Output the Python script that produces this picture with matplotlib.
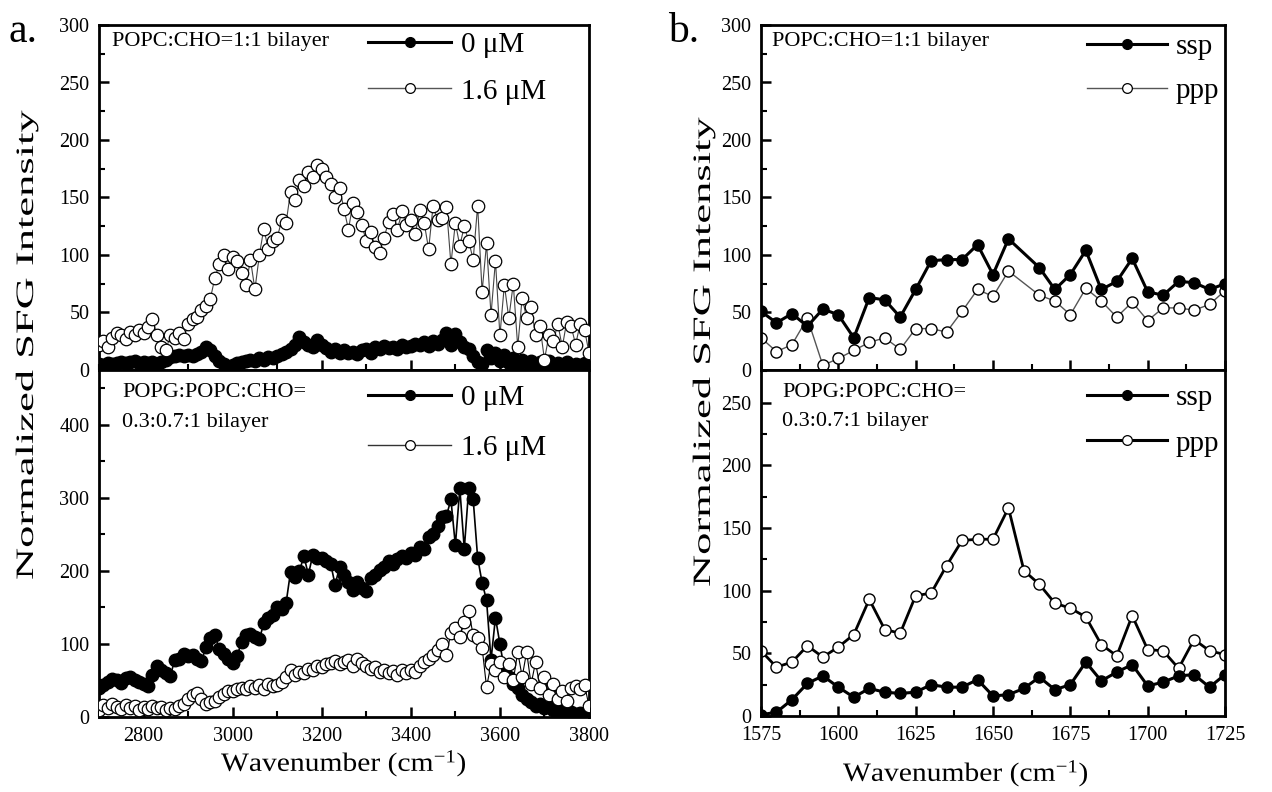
import matplotlib
matplotlib.use("Agg")
import matplotlib.pyplot as plt
from matplotlib.lines import Line2D
from matplotlib.patheffects import AbstractPathEffect
from matplotlib.transforms import Affine2D
from matplotlib.ticker import MultipleLocator

plt.rcParams['font.family'] = ['Liberation Serif', 'DejaVu Serif']
plt.rcParams['mathtext.fontset'] = 'custom'
plt.rcParams['mathtext.rm'] = 'Liberation Serif'
plt.rcParams['mathtext.it'] = 'Liberation Serif:italic'
plt.rcParams['mathtext.bf'] = 'Liberation Serif:bold'

# ---------------- data ----------------
wn_ch = list(range(2700, 3801, 10))

ch_top_0uM = [5, 4, 6, 5, 6, 7, 6, 7, 8, 6,
              7, 6, 7, 5, 7, 9, 11, 12, 13, 12,
              13, 12, 14, 16, 20, 17, 12, 8, 5, 3,
              4, 6, 7, 8, 9, 8, 10, 9, 11, 10,
              12, 14, 16, 18, 22, 29, 24, 22, 20, 26,
              22, 19, 16, 18, 15, 17, 15, 16, 14, 17,
              18, 15, 20, 18, 21, 19, 20, 18, 22, 20,
              21, 23, 22, 24, 21, 25, 23, 26, 32, 22,
              31, 24, 20, 18, 12, 7, 5, 17, 10, 15,
              8, 13, 6, 10, 4, 9, 6, 8, 4, 7,
              5, 8, 3, 6, 4, 7, 3, 5, 4, 6,
              3]

ch_top_16uM = [22, 25, 20, 28, 32, 30, 27, 33, 30, 35,
               32, 37, 44, 30, 20, 17, 30, 28, 32, 27,
               40, 44, 46, 52, 56, 62, 80, 92, 100, 88,
               98, 95, 84, 74, 96, 70, 100, 123, 105, 112,
               115, 130, 128, 155, 148, 165, 160, 172, 168, 178,
               175, 168, 162, 150, 158, 140, 122, 145, 137, 126,
               112, 120, 107, 102, 115, 129, 136, 122, 138, 126,
               130, 118, 139, 128, 105, 143, 130, 132, 142, 92,
               128, 108, 125, 112, 96, 143, 68, 110, 48, 95,
               30, 74, 45, 75, 20, 63, 45, 55, 30, 38,
               9, 30, 25, 40, 20, 42, 38, 22, 40, 35,
               15]

ch_bot_0uM = [40, 44, 48, 52, 50, 46, 53, 55, 50, 48,
              45, 42, 58, 70, 65, 60, 56, 78, 80, 86,
              84, 85, 80, 76, 96, 108, 112, 93, 86, 80,
              74, 83, 103, 112, 114, 110, 107, 128, 135, 140,
              151, 148, 156, 199, 192, 200, 220, 195, 222, 218,
              217, 214, 210, 181, 205, 195, 185, 174, 185, 177,
              172, 190, 195, 201, 205, 214, 210, 216, 220, 218,
              225, 222, 233, 230, 246, 250, 262, 274, 275, 298,
              235, 313, 230, 313, 298, 218, 184, 160, 78, 136,
              100, 65, 55, 45, 40, 30, 25, 20, 15, 18,
              12, 14, 10, 8, 9, 6, 7, 4, 5, 3,
              2]

ch_bot_16uM = [10, 16, 12, 18, 14, 11, 17, 12, 15, 10,
               14, 11, 15, 12, 14, 10, 13, 11, 15, 18,
               24, 30, 33, 25, 18, 20, 22, 28, 32, 35,
               36, 38, 40, 38, 42, 40, 44, 38, 45, 42,
               44, 48, 55, 64, 58, 62, 60, 66, 64, 70,
               68, 72, 74, 76, 72, 75, 78, 70, 80, 74,
               70, 66, 68, 62, 65, 60, 63, 58, 64, 60,
               65, 62, 70, 75, 80, 85, 92, 100, 85, 115,
               122, 110, 130, 145, 112, 108, 95, 41, 72, 65,
               75, 55, 72, 50, 89, 55, 89, 45, 75, 40,
               55, 30, 45, 25, 35, 22, 40, 42, 38, 44,
               15]

wn_amide_top = [1575, 1580, 1585, 1590, 1595, 1600, 1605, 1610, 1615, 1620,
                1625, 1630, 1635, 1640, 1645, 1650, 1655, 1665, 1670, 1675,
                1680, 1685, 1690, 1695, 1700, 1705, 1710, 1715, 1720, 1725]
am_top_ssp = [51, 41, 49, 38, 53, 48, 28, 63, 61, 46,
              70, 95, 96, 96, 109, 83, 114, 89, 70, 83,
              104, 70, 77, 97, 68, 65, 77, 76, 70, 75]
am_top_ppp = [28, 16, 22, 45, 4, 10, 17, 24, 28, 18,
              36, 36, 33, 51, 70, 64, 86, 65, 60, 48,
              71, 60, 46, 59, 43, 54, 54, 52, 57, 69]

wn_amide_bot = [1575, 1580, 1585, 1590, 1595, 1600, 1605, 1610, 1615, 1620,
                1625, 1630, 1635, 1640, 1645, 1650, 1655, 1660, 1665, 1670,
                1675, 1680, 1685, 1690, 1695, 1700, 1705, 1710, 1715, 1720, 1725]
am_bot_ssp = [1, 3, 13, 26, 32, 23, 15, 22, 19, 18,
              19, 25, 23, 23, 29, 16, 17, 22, 31, 21,
              25, 43, 28, 35, 41, 24, 27, 32, 33, 23, 33]
am_bot_ppp = [52, 39, 43, 56, 47, 55, 65, 93, 69, 66,
              96, 98, 120, 140, 141, 141, 166, 116, 105, 90,
              86, 79, 57, 48, 80, 53, 52, 38, 61, 52, 49]

label_top = "POPC:CHO=1:1 bilayer"
label_bot_1 = "POPG:POPC:CHO="
label_bot_2 = "0.3:0.7:1 bilayer"
conc_labels = ["0 \u03bcM", "1.6 \u03bcM"]
pol_labels = ["ssp", "ppp"]


# ---------------- helpers ----------------
class Stretch(AbstractPathEffect):
    """Stretch glyphs along the text baseline (text stays real text)."""
    def __init__(self, sx=1.0, sy=1.0):
        super().__init__()
        self._sx, self._sy = sx, sy

    def draw_path(self, renderer, gc, tpath, affine, rgbFace=None):
        renderer.draw_path(gc, tpath, Affine2D().scale(self._sx, self._sy) + affine, rgbFace)


W, H = 1272, 792
fig = plt.figure(figsize=(W / 100, H / 100), dpi=100)


def add_ax(x0, y_top, x1, y_bot):
    return fig.add_axes([x0 / W, 1 - y_bot / H, (x1 - x0) / W, (y_bot - y_top) / H])


def style(ax, show_xlabels):
    for s in ax.spines.values():
        s.set_linewidth(2.0)
    ax.tick_params(which='both', direction='in', top=False, right=False,
                   labelsize=14.5, pad=7)
    ax.tick_params(which='major', length=7, width=1.8)
    ax.tick_params(which='minor', length=4, width=1.5)
    if not show_xlabels:
        ax.tick_params(axis='x', labelbottom=False)


ms_big = 9
ms_small = 8
leg_fs = 21

# ---- left column ----
axa1 = add_ax(99, 25, 589, 370)
axa2 = add_ax(99, 370, 589, 717)

axa1.plot(wn_ch, ch_top_0uM, '-o', color='black', lw=1.2, ms=ms_big, mfc='black', mec='black', zorder=2)
axa1.plot(wn_ch, ch_top_16uM, '-o', color='#444444', lw=0.8, ms=ms_big, mfc='white', mec='black', mew=0.9, zorder=3)
axa2.plot(wn_ch, ch_bot_0uM, '-o', color='black', lw=1.2, ms=ms_big, mfc='black', mec='black', zorder=2)
axa2.plot(wn_ch, ch_bot_16uM, '-o', color='black', lw=0.8, ms=ms_big, mfc='white', mec='black', mew=0.9, zorder=3)

for ax, ylim, maj, mnr in [(axa1, (0, 300), 50, 25), (axa2, (0, 475), 100, 50)]:
    ax.set_xlim(2700, 3800)
    ax.set_ylim(*ylim)
    ax.xaxis.set_major_locator(MultipleLocator(200))
    ax.xaxis.set_minor_locator(MultipleLocator(100))
    ax.yaxis.set_major_locator(MultipleLocator(maj))
    ax.yaxis.set_minor_locator(MultipleLocator(mnr))
axa2.set_yticks([0, 100, 200, 300, 400])
style(axa1, False)
style(axa2, True)

h_a1 = [Line2D([], [], color='black', lw=2.2, marker='o', ms=7, mfc='black', mec='black'),
        Line2D([], [], color='#555555', lw=1.0, marker='o', ms=7, mfc='white', mec='black', mew=0.9)]
h_a2 = [Line2D([], [], color='black', lw=2.2, marker='o', ms=7, mfc='black', mec='black'),
        Line2D([], [], color='#333333', lw=1.0, marker='o', ms=7, mfc='white', mec='black', mew=0.9)]
axa1.legend(h_a1, conc_labels, loc='upper left', bbox_to_anchor=(0.549, 0.98), frameon=False,
            fontsize=leg_fs, handlelength=2.85, handletextpad=0.33, labelspacing=0.68,
            borderpad=0, borderaxespad=0)
axa2.legend(h_a2, conc_labels, loc='upper left', bbox_to_anchor=(0.549, 0.957), frameon=False,
            fontsize=leg_fs, handlelength=2.85, handletextpad=0.33, labelspacing=0.8,
            borderpad=0, borderaxespad=0)

axa1.text(0.027, 0.951, label_top, transform=axa1.transAxes, fontsize=16, va='center', ha='left')
axa2.text(0.047, 0.934, label_bot_1, transform=axa2.transAxes, fontsize=16, va='center', ha='left')
axa2.text(0.047, 0.850, label_bot_2, transform=axa2.transAxes, fontsize=16, va='center', ha='left')

# ---- right column ----
axb1 = add_ax(761, 25, 1225, 370)
axb2 = add_ax(761, 370, 1225, 716)

axb1.plot(wn_amide_top, am_top_ppp, '-o', color='#555555', lw=1.0, ms=ms_small, mfc='white', mec='black', mew=1.0, zorder=2)
axb1.plot(wn_amide_top, am_top_ssp, '-o', color='black', lw=2.2, ms=ms_small, mfc='black', mec='black', zorder=3)
axb2.plot(wn_amide_bot, am_bot_ppp, '-o', color='black', lw=2.0, ms=ms_small, mfc='white', mec='black', mew=1.0, zorder=2)
axb2.plot(wn_amide_bot, am_bot_ssp, '-o', color='black', lw=2.2, ms=ms_small, mfc='black', mec='black', zorder=3)

for ax, ylim in [(axb1, (0, 300)), (axb2, (0, 276))]:
    ax.set_xlim(1575, 1725)
    ax.set_ylim(*ylim)
    ax.xaxis.set_major_locator(MultipleLocator(25))
    ax.xaxis.set_minor_locator(MultipleLocator(12.5))
    ax.yaxis.set_major_locator(MultipleLocator(50))
    ax.yaxis.set_minor_locator(MultipleLocator(25))
style(axb1, False)
style(axb2, True)

h_b1 = [Line2D([], [], color='black', lw=2.2, marker='o', ms=7, mfc='black', mec='black'),
        Line2D([], [], color='#555555', lw=1.0, marker='o', ms=7, mfc='white', mec='black', mew=0.9)]
h_b2 = [Line2D([], [], color='black', lw=2.2, marker='o', ms=7, mfc='black', mec='black'),
        Line2D([], [], color='black', lw=2.2, marker='o', ms=7, mfc='white', mec='black', mew=0.9)]
axb1.legend(h_b1, pol_labels, loc='upper left', bbox_to_anchor=(0.703, 0.975), frameon=False,
            fontsize=leg_fs, handlelength=2.75, handletextpad=0.28, labelspacing=0.6,
            borderpad=0, borderaxespad=0)
axb2.legend(h_b2, pol_labels, loc='upper left', bbox_to_anchor=(0.703, 0.957), frameon=False,
            fontsize=leg_fs, handlelength=2.75, handletextpad=0.28, labelspacing=0.65,
            borderpad=0, borderaxespad=0)

axb1.text(0.024, 0.951, label_top, transform=axb1.transAxes, fontsize=16, va='center', ha='left')
axb2.text(0.045, 0.936, label_bot_1, transform=axb2.transAxes, fontsize=16, va='center', ha='left')
axb2.text(0.045, 0.850, label_bot_2, transform=axb2.transAxes, fontsize=16, va='center', ha='left')

# ---- axis labels (stretched like the original) ----
ylab = "Normalized SFG Intensity"
xlab = "Wavenumber (cm$^{\\mathrm{-1}}$)"
fig.text(27 / W, 1 - 580 / H, ylab, rotation=90, rotation_mode='anchor', ha='left', va='center',
         fontsize=18, path_effects=[Stretch(1.78)])
fig.text(704 / W, 1 - 587 / H, ylab, rotation=90, rotation_mode='anchor', ha='left', va='center',
         fontsize=18, path_effects=[Stretch(1.78)])
fig.text(221 / W, 1 - 771 / H, xlab, ha='left', va='baseline', fontsize=19,
         path_effects=[Stretch(1.12)])
fig.text(843 / W, 1 - 781 / H, xlab, ha='left', va='baseline', fontsize=19,
         path_effects=[Stretch(1.12)])

fig.text(8 / W, 1 - 42 / H, "a.", fontsize=30, ha='left', va='baseline')
fig.text(668 / W, 1 - 42 / H, "b.", fontsize=30, ha='left', va='baseline')

fig.savefig("out.png", dpi=100)
